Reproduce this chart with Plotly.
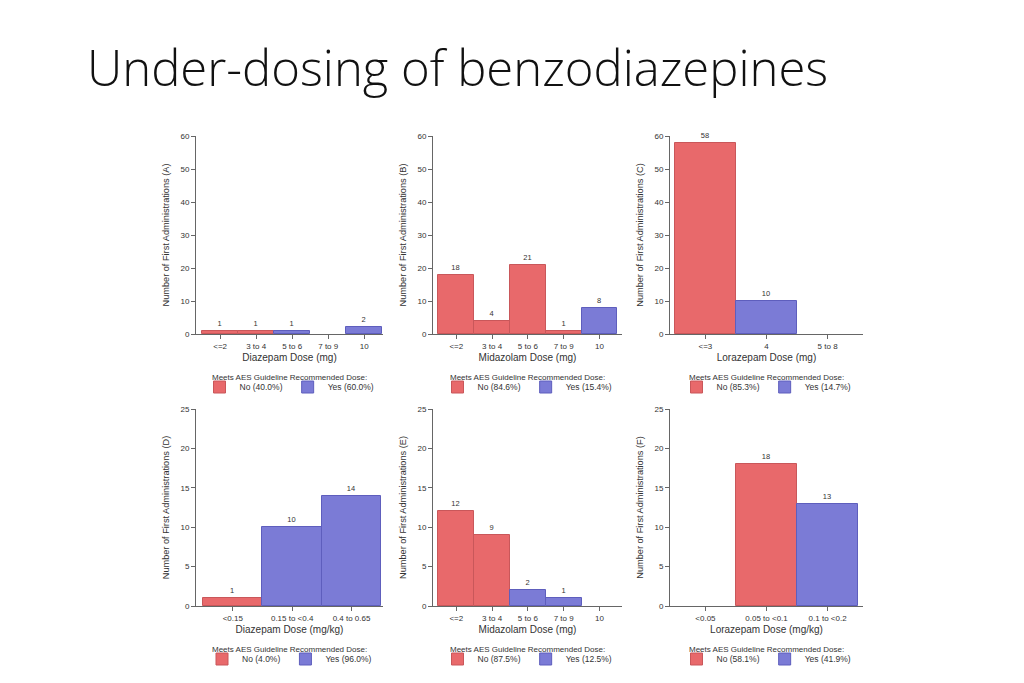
import plotly.graph_objects as go

# ---------------- data ----------------
title_text = "Under-dosing of benzodiazepines"

cats_A = ["<=2", "3 to 4", "5 to 6", "7 to 9", "10"]
counts_A = [1, 1, 1, 0, 2]
meets_A = [False, False, True, True, True]
pct_A = ["40.0%", "60.0%"]

cats_B = ["<=2", "3 to 4", "5 to 6", "7 to 9", "10"]
counts_B = [18, 4, 21, 1, 8]
meets_B = [False, False, False, False, True]
pct_B = ["84.6%", "15.4%"]

cats_C = ["<=3", "4", "5 to 8"]
counts_C = [58, 10, 0]
meets_C = [False, True, True]
pct_C = ["85.3%", "14.7%"]

cats_D = ["<0.15", "0.15 to <0.4", "0.4 to 0.65"]
counts_D = [1, 10, 14]
meets_D = [False, True, True]
pct_D = ["4.0%", "96.0%"]

cats_E = ["<=2", "3 to 4", "5 to 6", "7 to 9", "10"]
counts_E = [12, 9, 2, 1, 0]
meets_E = [False, False, True, True, True]
pct_E = ["87.5%", "12.5%"]

cats_F = ["<0.05", "0.05 to <0.1", "0.1 to <0.2"]
counts_F = [0, 18, 13]
meets_F = [False, False, True]
pct_F = ["58.1%", "41.9%"]

x_titles = ["Diazepam Dose (mg)", "Midazolam Dose (mg)", "Lorazepam Dose (mg)",
            "Diazepam Dose (mg/kg)", "Midazolam Dose (mg)", "Lorazepam Dose (mg/kg)"]
letters = ["A", "B", "C", "D", "E", "F"]
legend_title = "Meets AES Guideline Recommended Dose:"

panels = [
    (cats_A, counts_A, meets_A, pct_A),
    (cats_B, counts_B, meets_B, pct_B),
    (cats_C, counts_C, meets_C, pct_C),
    (cats_D, counts_D, meets_D, pct_D),
    (cats_E, counts_E, meets_E, pct_E),
    (cats_F, counts_F, meets_F, pct_F),
]

# ---------------- layout / style ----------------
W, H = 1024, 683
RED, RED_LINE = "#E8696B", "#C9575A"
BLUE, BLUE_LINE = "#7B7BD6", "#5E5EBD"
FONT = "Liberation Sans"
TXT = "#333333"
AX = "#666666"

col_px = [(196, 383), (433, 622), (670, 863)]
row_px = [(136, 334), (409, 606)]
xranges = [[-0.67, 4.52], [-0.65, 4.63], [-0.58, 2.58],
           [-0.62, 2.53], [-0.65, 4.63], [-0.58, 2.58]]
yranges = [[0, 60], [0, 25]]
dticks = [10, 5]

fig = go.Figure()
annotations = [dict(
    text=title_text, x=85 / W, y=1 - 32 / H, xref="paper", yref="paper",
    xanchor="left", yanchor="top", showarrow=False,
    font=dict(size=49, color="#111111", family="Open Sans", weight=300),
)]

for i, (cats, counts, meets, pct) in enumerate(panels):
    r, c = divmod(i, 3)
    n = i + 1
    xa = "x" if n == 1 else f"x{n}"
    ya = "y" if n == 1 else f"y{n}"
    lg = "legend" if n == 1 else f"legend{n}"

    for flag, name, col, lcol, p in [(False, "No", RED, RED_LINE, pct[0]),
                                     (True, "Yes", BLUE, BLUE_LINE, pct[1])]:
        ys = [v if (m == flag and v > 0) else None for v, m in zip(counts, meets)]
        txt = [str(v) if (m == flag and v > 0) else "" for v, m in zip(counts, meets)]
        fig.add_trace(go.Bar(
            x=cats, y=ys, text=txt, textposition="outside",
            textfont=dict(size=7.5, color=TXT, family=FONT),
            cliponaxis=False, width=1.0,
            marker=dict(color=col, line=dict(color=lcol, width=1)),
            name=f"{name} ({p})", xaxis=xa, yaxis=ya, legend=lg,
            showlegend=True,
        ))

    x0, x1 = col_px[c]
    y0, y1 = row_px[r]
    xkey = "xaxis" if n == 1 else f"xaxis{n}"
    ykey = "yaxis" if n == 1 else f"yaxis{n}"
    fig.layout[xkey] = dict(
        domain=[x0 / W, x1 / W], anchor=ya, type="category", automargin=False,
        range=xranges[i], showline=True, linecolor=AX, linewidth=1,
        ticks="outside", ticklen=4, tickcolor=AX, showgrid=False, zeroline=False,
        tickfont=dict(size=8, color=TXT, family=FONT),
        title=dict(text=x_titles[i], font=dict(size=10, color=TXT, family=FONT), standoff=4),
    )
    fig.layout[ykey] = dict(
        domain=[1 - y1 / H, 1 - y0 / H], anchor=xa, automargin=False,
        range=yranges[r], dtick=dticks[r], showline=True, linecolor=AX, linewidth=1,
        ticks="outside", ticklen=4, tickcolor=AX, showgrid=False, zeroline=False,
        tickfont=dict(size=8, color=TXT, family=FONT),
        title=dict(text=f"Number of First Administrations ({letters[i]})",
                   font=dict(size=9.2, color=TXT, family=FONT), standoff=9),
    )
    cx = (x0 + x1) / 2 / W
    annotations.append(dict(
        text=legend_title, x=cx, y=1 - (y1 + 43) / H, xref="paper", yref="paper",
        xanchor="center", yanchor="middle", showarrow=False,
        font=dict(size=8, color=TXT, family=FONT),
    ))
    fig.layout[lg] = dict(
        x=cx, xanchor="center",
        y=1 - (y1 + 53) / H, yanchor="middle",
        orientation="h",
        font=dict(size=8.5, color=TXT, family=FONT),
        bgcolor="rgba(0,0,0,0)", itemwidth=30,
        tracegroupgap=0,
    )

fig.update_layout(
    width=W, height=H, margin=dict(l=0, r=0, t=0, b=0, autoexpand=False),
    paper_bgcolor="white", plot_bgcolor="white",
    barmode="overlay", bargap=0,
    annotations=annotations,
)

fig.write_html(
    "out.html",
    config={"displayModeBar": False},
    post_script="document.body.style.margin='0';document.body.style.overflow='hidden';",
)
